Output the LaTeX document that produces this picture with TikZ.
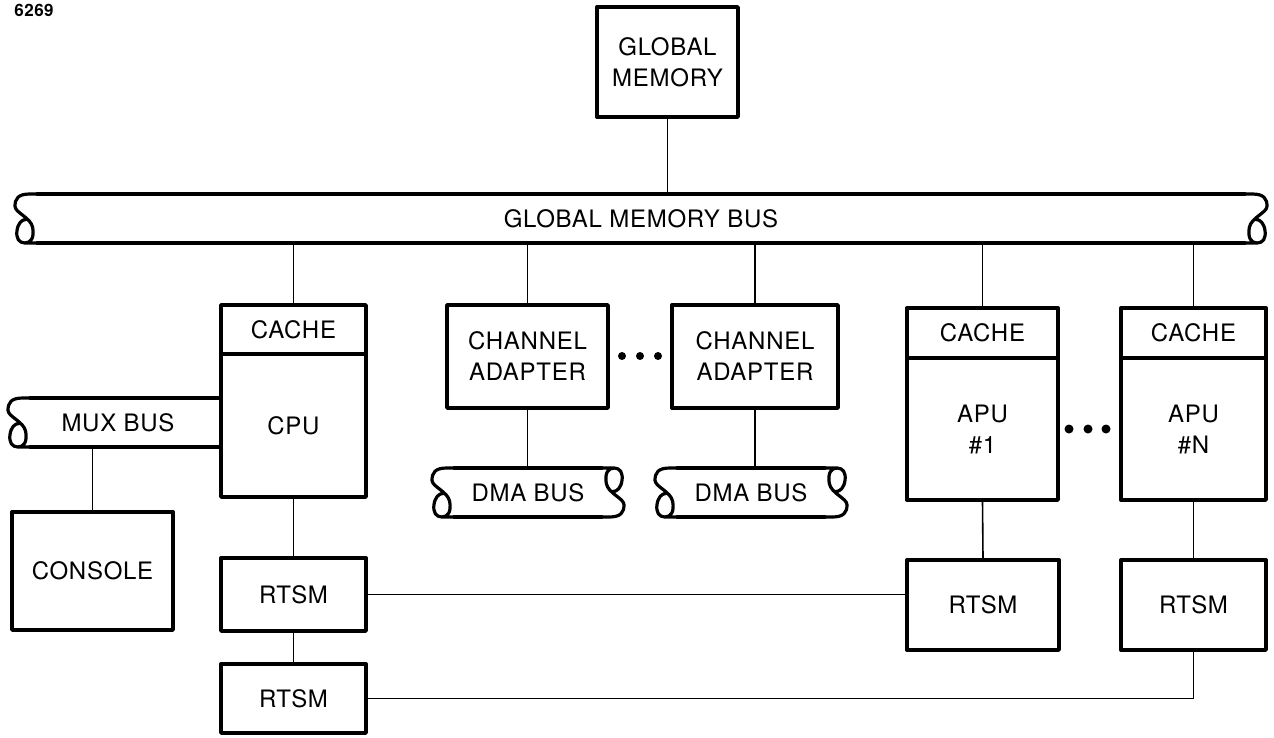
\documentclass[tikz,border=0pt]{standalone}
\usepackage{fontspec}
\setmainfont{TeX Gyre Heros}[LetterSpace=3]
\begin{document}
\begin{tikzpicture}[x=1pt,y=-1pt,
  txt/.style={font=\fontsize{24}{31}\selectfont, align=center, inner sep=0pt},
  blk/.style={txt, draw, line width=3.4pt, line join=round},
  busnode/.style={txt, draw=none, outer sep=0pt},
  conn/.style={line width=1.6pt},
  busline/.style={line width=3.2pt, line join=round, line cap=round},
  dot/.style={circle, fill, inner sep=0pt, minimum size=#1},
  dot/.default=9pt]
\useasboundingbox (0,0) rectangle (1274,737);
\newcommand{\curlpath}{(0.5,0) -- (0.3,0) .. controls (0.06,0) and (0,0.1) .. (0,0.25) .. controls (0,0.38) and (0.32,0.48) .. (0.36,0.68) .. controls (0.4,0.9) and (0.32,1) .. (0.2,1) .. controls (0.08,1) and (0.02,0.9) .. (0.04,0.75) .. controls (0.06,0.6) and (0.14,0.52) .. (0.22,0.52) (0.2,1) -- (0.5,1)}

% label
\node[font=\fontsize{17}{17}\selectfont\bfseries, inner sep=0pt] (num) at (34,10) {6269};

% global memory
\node[blk, minimum width=141pt, minimum height=110pt] (gm) at (667.5,62) {GLOBAL\\MEMORY};

% global memory bus
\node[busnode, minimum width=1252pt, minimum height=49pt] (gmb) at (641,218.5) {GLOBAL MEMORY BUS};
\draw[busline] (37,194) -- (1245,194) (37,243) -- (1245,243);
\begin{scope}[shift={(15,194)}, scale=49]
  \draw[busline] \curlpath;
\end{scope}
\begin{scope}[shift={(1267,194)}, xscale=-49, yscale=49]
  \draw[busline] \curlpath;
\end{scope}

% CPU
\node[blk, minimum width=145pt, minimum height=49pt] (cpucache) at (293.5,329.5) {CACHE};
\node[blk, minimum width=145pt, minimum height=143pt] (cpu) at (293.5,425.5) {CPU};

% MUX bus
\node[busnode, minimum width=150pt, minimum height=49pt] (mux) at (118,422.5) {MUX BUS};
\draw[busline] (30,398) -- (cpu.west |- 0,398) (30,447) -- (cpu.west |- 0,447);
\begin{scope}[shift={(8,398)}, scale=49]
  \draw[busline] \curlpath;
\end{scope}

% console
\node[blk, minimum width=161pt, minimum height=118pt] (console) at (92.5,571) {CONSOLE};

% channel adapters
\node[blk, minimum width=161pt, minimum height=103pt] (ca1) at (527.5,356.5) {CHANNEL\\ADAPTER};
\node[blk, minimum width=166pt, minimum height=103pt] (ca2) at (755,356.5) {CHANNEL\\ADAPTER};
\node[dot=8pt] (cad1) at (622,356) {};
\node[dot=8pt] (cad2) at (640,356) {};
\node[dot=8pt] (cad3) at (658,356) {};

% DMA buses
\node[busnode, minimum width=192pt, minimum height=49pt] (dma1) at (528,492.5) {DMA BUS};
\draw[busline] (454,468) -- (602,468) (454,517) -- (602,517);
\begin{scope}[shift={(432,468)}, scale=49]
  \draw[busline] \curlpath;
\end{scope}
\begin{scope}[shift={(624,517)}, xscale=-49, yscale=-49]
  \draw[busline] \curlpath;
\end{scope}
\node[busnode, minimum width=192pt, minimum height=49pt] (dma2) at (751,492.5) {DMA BUS};
\draw[busline] (677,468) -- (825,468) (677,517) -- (825,517);
\begin{scope}[shift={(655,468)}, scale=49]
  \draw[busline] \curlpath;
\end{scope}
\begin{scope}[shift={(847,517)}, xscale=-49, yscale=-49]
  \draw[busline] \curlpath;
\end{scope}

% APUs
\node[blk, minimum width=151pt, minimum height=50pt] (apu1cache) at (982.5,333) {CACHE};
\node[blk, minimum width=151pt, minimum height=142pt] (apu1) at (982.5,429) {APU\\\#1};
\node[blk, minimum width=145pt, minimum height=50pt] (apuNcache) at (1193.5,333) {CACHE};
\node[blk, minimum width=145pt, minimum height=142pt] (apuN) at (1193.5,429) {APU\\\#N};
\node[dot] (apd1) at (1069,429) {};
\node[dot] (apd2) at (1088,429) {};
\node[dot] (apd3) at (1106,429) {};

% RTSMs
\node[blk, minimum width=145pt, minimum height=73pt] (rtsm1) at (293.5,594.5) {RTSM};
\node[blk, minimum width=145pt, minimum height=69pt] (rtsm2) at (293.5,698.5) {RTSM};
\node[blk, minimum width=152pt, minimum height=90pt] (rtsma) at (983,605) {RTSM};
\node[blk, minimum width=145pt, minimum height=90pt] (rtsmn) at (1193.5,605) {RTSM};

% connectors
\draw[conn] (gm.south) -- (gm.south |- gmb.north);
\draw[conn] (cpucache.north) -- (cpucache.north |- gmb.south);
\draw[conn] (ca1.north) -- (ca1.north |- gmb.south);
\draw[conn] (ca2.north) -- (ca2.north |- gmb.south);
\draw[conn] (apu1cache.north) -- (apu1cache.north |- gmb.south);
\draw[conn] (apuNcache.north) -- (apuNcache.north |- gmb.south);
\draw[conn] (ca1.south) -- (ca1.south |- dma1.north);
\draw[conn] (ca2.south) -- (ca2.south |- dma2.north);
\draw[conn] (console.north |- mux.south) -- (console.north);
\draw[conn] (cpu.south) -- (rtsm1.north);
\draw[conn] (rtsm1.south) -- (rtsm2.north);
\draw[conn] (apu1.south) -- (rtsma.north);
\draw[conn] (apuN.south) -- (rtsmn.north);
\draw[conn] (rtsm1.east) -- (rtsm1.east -| rtsma.west);
\draw[conn] (rtsm2.east) -| (rtsmn.south);
\end{tikzpicture}
\end{document}
